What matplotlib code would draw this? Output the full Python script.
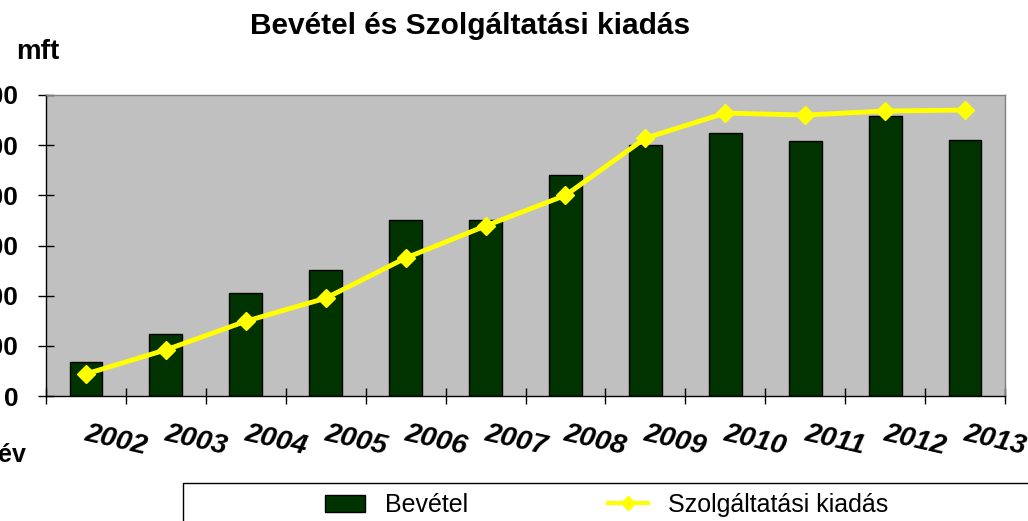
import matplotlib
matplotlib.use("Agg")
import matplotlib.pyplot as plt
import matplotlib.transforms as mtransforms
from matplotlib.patches import Rectangle, Patch
from matplotlib.lines import Line2D
import numpy as np

years = ["2002", "2003", "2004", "2005", "2006", "2007", "2008", "2009", "2010", "2011", "2012", "2013"]
bevetel = [68, 123, 205, 251, 351, 351, 440, 500, 524, 508, 558, 510]
kiadas = [44, 92, 149, 195, 275, 339, 400, 514, 564, 560, 568, 570]
yticks = [0, 100, 200, 300, 400, 500, 600]

plt.rcParams['font.family'] = ['Liberation Sans', 'DejaVu Sans']

fig = plt.figure(figsize=(10.28, 5.21), dpi=100)
ax = fig.add_axes([46/1028, 1-396/521, (1005-46)/1028, (396-95)/521])
ax.set_facecolor('#C0C0C0')

x = np.arange(len(years))
ax.bar(x, bevetel, width=0.41, color='#003300', edgecolor='black', linewidth=1, zorder=2)
ax.plot(x, kiadas, color='#FFFF00', linewidth=3.5, marker='D', markersize=9, zorder=3)

ax.set_xlim(-0.5, len(years) - 0.5)
ax.set_ylim(0, 600)
ax.set_yticks(yticks)
ax.set_yticklabels([str(v) for v in yticks], fontsize=19, fontweight='bold')
ax.tick_params(axis='y', direction='inout', length=12, width=1, pad=14)

ax.set_xticks(np.arange(len(years) + 1) - 0.5)
ax.set_xticklabels([])
ax.tick_params(axis='x', which='major', direction='inout', length=12, width=1)
ax.set_xticks(x, minor=True)
ax.set_xticklabels(years, minor=True, fontsize=20.5, fontweight='bold', fontstyle='italic',
                   rotation=-13, rotation_mode='anchor', ha='center', va='center')
ax.tick_params(axis='x', which='minor', length=0, pad=0)
offset = mtransforms.ScaledTranslation(30/100, -44/100, fig.dpi_scale_trans)
for lab in ax.get_xticklabels(minor=True):
    lab.set_transform(ax.get_xaxis_transform() + offset)
    lab.set_y(0)

for s in ['top', 'right']:
    ax.spines[s].set_color('#808080')
    ax.spines[s].set_linewidth(1)
for s in ['left', 'bottom']:
    ax.spines[s].set_color('black')
    ax.spines[s].set_linewidth(1)

fig.text(470/1028, 1-26/521, "Bevétel és Szolgáltatási kiadás", fontsize=21.5, fontweight='bold',
         ha='center', va='center')
fig.text(16/1028, 1-52/521, "mft", fontsize=20, fontweight='bold', ha='left', va='center')
fig.text(-2/1028, 1-455/521, "év", fontsize=18, fontweight='bold', ha='left', va='center')

# legend frame
fig.patches.append(Rectangle((183/1028, -0.05), 1.0, 1-483/521 + 0.05, transform=fig.transFigure,
                             facecolor='white', edgecolor='black', linewidth=1))
handles = [Patch(facecolor='#003300', edgecolor='black', linewidth=1),
           Line2D([0], [0], color='#FFFF00', linewidth=3, marker='D', markersize=7)]
leg = fig.legend(handles, ["Bevétel", "Szolgáltatási kiadás"], loc='center left',
                 bbox_to_anchor=(325/1028, 1-505/521), ncol=2, frameon=False, fontsize=18,
                 handlelength=1.6, handleheight=0.65, columnspacing=5.6, handletextpad=0.8,
                 borderpad=0, borderaxespad=0)

fig.savefig("out.png", dpi=100)
